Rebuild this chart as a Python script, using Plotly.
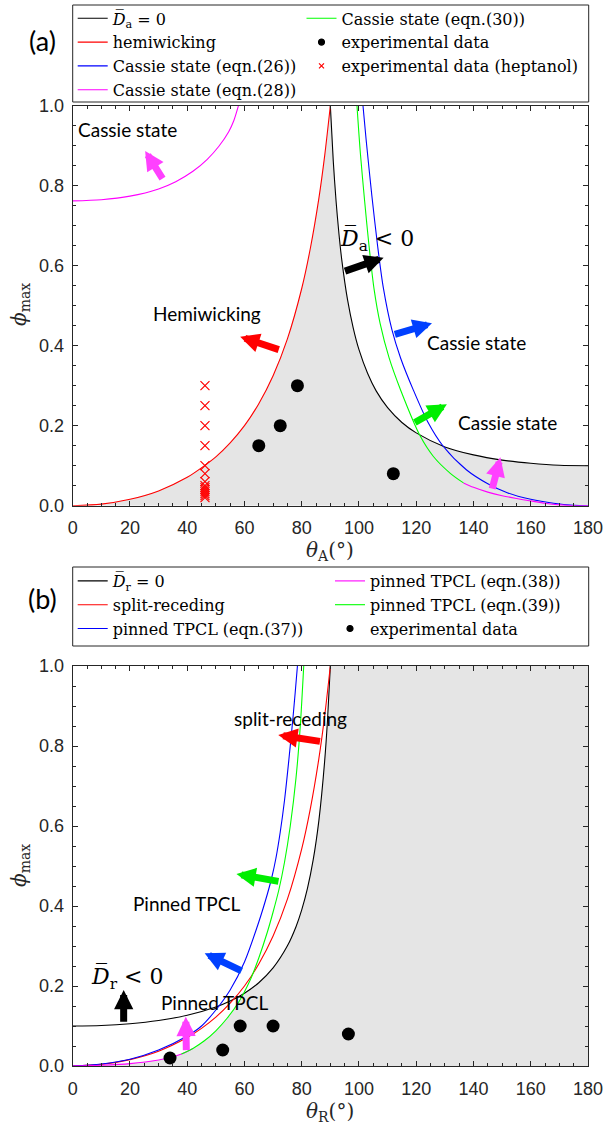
import plotly.graph_objects as go

W, H = 607, 1130

# ---------------- panel (a): advancing ----------------
theta_black_a = [90, 91, 92, 93, 94, 96, 98, 100, 103, 106, 110, 115, 120, 130, 140, 150, 160, 170, 180]
phi_black_a = [1.0, 0.864, 0.761, 0.680, 0.614, 0.515, 0.444, 0.390, 0.331, 0.287, 0.245, 0.208, 0.182,
               0.147, 0.127, 0.114, 0.106, 0.101, 0.100]

theta_red_a = [0, 10, 20, 30, 40, 46, 50, 55, 60, 65, 70, 75, 80, 83, 86, 88, 90]
phi_red_a = [0, 0.004, 0.016, 0.037, 0.071, 0.100, 0.122, 0.157, 0.200, 0.255, 0.325, 0.417, 0.543,
             0.643, 0.769, 0.874, 1.0]

theta_blue_a = [101.4, 102.5, 104.5, 106.5, 108.5, 111.5, 114.5, 119, 124, 129.5, 137.5, 145, 152, 160,
                168, 175, 180]
phi_blue_a = [1.0, 0.915, 0.775, 0.65, 0.545, 0.44, 0.37, 0.289, 0.21, 0.148, 0.09, 0.055, 0.032, 0.016,
              0.006, 0.001, 0.0]

theta_mag_a_top = [0, 10, 20, 30, 36, 42, 47, 51, 54.5, 56.3, 57.9, 59]
phi_mag_a_top = [0.762, 0.765, 0.774, 0.792, 0.81, 0.836, 0.866, 0.898, 0.935, 0.963, 1.0, 1.03]
theta_mag_a_low = [136.5, 140, 145, 150, 155, 160, 165, 170, 175, 180]
phi_mag_a_low = [0.057, 0.046, 0.034, 0.025, 0.018, 0.012, 0.006, 0.002, 0.0, 0.0]

theta_green_a = [99.3, 100.5, 102, 103.5, 105.3, 107.4, 110.5, 114.5, 121.4, 126, 131.9, 136.5]
phi_green_a = [1.0, 0.88, 0.76, 0.65, 0.54, 0.455, 0.37, 0.29, 0.174, 0.123, 0.081, 0.057]

theta_exp_a = [65, 72.5, 78.5, 112]
phi_exp_a = [0.15, 0.20, 0.30, 0.08]

theta_hep_a = [46.2] * 14
phi_hep_a = [0.30, 0.25, 0.20, 0.15, 0.10, 0.08, 0.06, 0.05, 0.045, 0.04, 0.035, 0.03, 0.025, 0.02]

# ---------------- panel (b): receding ----------------
theta_black_b = [0, 10, 20, 30, 40, 50, 55, 60, 65, 70, 75, 78, 80, 82, 84, 86, 88, 89, 90]
phi_black_b = [0.1, 0.1014, 0.1057, 0.1137, 0.1267, 0.1474, 0.1623, 0.1818, 0.2082, 0.2452, 0.3004,
               0.3483, 0.3902, 0.4439, 0.5152, 0.6142, 0.7611, 0.8643, 1.0]

theta_red_b = [0, 10, 20, 30, 40, 45, 50, 55, 60, 65, 70, 75, 80, 83, 86, 88, 90]
phi_red_b = [0, 0.004, 0.016, 0.037, 0.071, 0.094, 0.122, 0.157, 0.200, 0.255, 0.325, 0.417, 0.543,
             0.643, 0.769, 0.874, 1.0]

theta_blue_b = [0, 10, 20, 30, 40, 45, 50, 55, 60, 65, 68, 69.5, 71, 72.5, 74, 75.5, 77, 78.5, 79.2]
phi_blue_b = [0, 0.005, 0.017, 0.04, 0.075, 0.1, 0.14, 0.19, 0.26, 0.36, 0.43, 0.47, 0.52, 0.585, 0.665,
              0.765, 0.875, 1.0, 1.07]

theta_mag_b = [0, 10, 20, 30, 35, 38, 40, 42]
phi_mag_b = [0, 0.002, 0.006, 0.015, 0.023, 0.03, 0.036, 0.044]

theta_green_b = [38, 42, 46, 50, 54, 58, 62, 65, 68, 70, 72, 74, 76, 78, 79.5, 80.7, 81.3]
phi_green_b = [0.03, 0.044, 0.063, 0.088, 0.12, 0.16, 0.215, 0.27, 0.335, 0.385, 0.44, 0.51, 0.6, 0.72,
               0.85, 1.0, 1.08]

theta_exp_b = [34, 52.4, 58.5, 70, 96.3]
phi_exp_b = [0.02, 0.04, 0.10, 0.10, 0.08]

THETA_MAX = 180
PHI_MAX = 1.0

GREY = "#e5e5e5"
C_BLACK, C_RED, C_BLUE, C_MAG, C_GREEN = "#000000", "#ff0000", "#0000ff", "#ff00ff", "#00ff00"
AXC = "#262626"
SERIF = "DejaVu Serif"
SANS = "Lato"


def px(xp):
    return xp / W


def py(yp):
    return 1 - yp / H


fig = go.Figure()


def curve(x, y, color, name, xa, ya, legend, showlegend=True):
    fig.add_trace(go.Scatter(
        x=x, y=y, mode="lines", name=name, xaxis=xa, yaxis=ya, legend=legend,
        showlegend=showlegend, line=dict(color=color, width=1.1, shape="spline", smoothing=0.8),
        hoverinfo="skip"))


def fill(x, y, xa, ya):
    fig.add_trace(go.Scatter(
        x=x, y=y, mode="lines", fill="tozeroy", fillcolor=GREY, xaxis=xa, yaxis=ya,
        line=dict(width=0), showlegend=False, hoverinfo="skip"))


def legend_marker(name, symbol, color, size, legend):
    fig.add_trace(go.Scatter(
        x=[None], y=[None], mode="markers", name=name, legend=legend,
        marker=dict(symbol=symbol, color=color, size=size, line=dict(color=color, width=1.2)),
        xaxis="x", yaxis="y"))


# ---- panel (a) ----
# shaded region: below the hemiwicking curve up to 90 deg, below D_a = 0 beyond
fill(theta_red_a + theta_black_a[1:], phi_red_a + phi_black_a[1:], "x", "y")
curve(theta_black_a, phi_black_a, C_BLACK, "<i>D̅</i><sub>a</sub> = 0", "x", "y", "legend")
curve(theta_red_a, phi_red_a, C_RED, "hemiwicking", "x", "y", "legend")
curve(theta_blue_a, phi_blue_a, C_BLUE, "Cassie state (eqn.(26))", "x", "y", "legend")
curve(theta_mag_a_top + [None] + theta_mag_a_low, phi_mag_a_top + [None] + phi_mag_a_low, C_MAG,
      "Cassie state (eqn.(28))", "x", "y", "legend")
curve(theta_green_a, phi_green_a, C_GREEN, "Cassie state (eqn.(30))", "x", "y", "legend2")
fig.add_trace(go.Scatter(x=theta_exp_a, y=phi_exp_a, mode="markers", xaxis="x", yaxis="y",
                         marker=dict(color="black", size=13), showlegend=False, hoverinfo="skip"))
fig.add_trace(go.Scatter(x=theta_hep_a, y=phi_hep_a, mode="markers", xaxis="x", yaxis="y",
                         marker=dict(symbol="x-thin", size=9, line=dict(color=C_RED, width=1.2)),
                         showlegend=False, hoverinfo="skip"))
legend_marker("experimental data", "circle", "black", 6, "legend2")
legend_marker("experimental data (heptanol)", "x-thin", C_RED, 5, "legend2")

# ---- panel (b) ----
# shaded region: below the lower pinned-TPCL curves, then below D_r = 0, then everything past 90 deg
bound_b = ([(t, p) for t, p in zip(theta_mag_b, phi_mag_b) if t < 38]
           + [(t, p) for t, p in zip(theta_green_b, phi_green_b) if 38 <= t <= 58]
           + [(t, p) for t, p in zip(theta_black_b, phi_black_b) if t >= 60]
           + [(THETA_MAX, PHI_MAX)])
fill([t for t, _ in bound_b], [p for _, p in bound_b], "x2", "y2")
curve(theta_black_b, phi_black_b, C_BLACK, "<i>D̅</i><sub>r</sub> = 0", "x2", "y2", "legend3")
curve(theta_red_b, phi_red_b, C_RED, "split-receding", "x2", "y2", "legend3")
curve(theta_blue_b, phi_blue_b, C_BLUE, "pinned TPCL (eqn.(37))", "x2", "y2", "legend3")
curve(theta_mag_b, phi_mag_b, C_MAG, "pinned TPCL (eqn.(38))", "x2", "y2", "legend4")
curve(theta_green_b, phi_green_b, C_GREEN, "pinned TPCL (eqn.(39))", "x2", "y2", "legend4")
fig.add_trace(go.Scatter(x=theta_exp_b, y=phi_exp_b, mode="markers", xaxis="x2", yaxis="y2",
                         marker=dict(color="black", size=13), showlegend=False, hoverinfo="skip"))
legend_marker("experimental data", "circle", "black", 6, "legend4")

# ---- axes ----
XDOM = [px(72.7), px(588)]
common_x = dict(range=[0, THETA_MAX], dtick=20, tick0=0, showline=True, linecolor=AXC, linewidth=1,
                mirror="ticks", ticks="inside", ticklen=5, tickcolor=AXC, showgrid=False, zeroline=False,
                tickfont=dict(family="Liberation Sans", size=18, color=AXC),
                minor=dict(ticks="inside", ticklen=3, dtick=5, tickcolor=AXC, showgrid=False),
                ticklabelstandoff=6)
common_y = dict(range=[0, PHI_MAX], dtick=0.2, tick0=0, tickformat=".1f", showline=True, linecolor=AXC,
                linewidth=1, mirror="ticks", ticks="inside", ticklen=5, tickcolor=AXC, showgrid=False,
                zeroline=False, tickfont=dict(family="Liberation Sans", size=18, color=AXC),
                minor=dict(ticks="inside", ticklen=3, dtick=0.05, tickcolor=AXC, showgrid=False),
                ticklabelstandoff=4)

legend_common = dict(bgcolor="rgba(0,0,0,0)", borderwidth=0, xanchor="left", yanchor="top",
                     font=dict(family=SERIF, size=16, color="black"), itemwidth=30, traceorder="normal")

fig.update_layout(
    width=W, height=H, margin=dict(l=0, r=0, t=0, b=0, autoexpand=False),
    paper_bgcolor="white", plot_bgcolor="white",
    xaxis=dict(domain=XDOM, anchor="y", **common_x),
    yaxis=dict(domain=[py(505.7), py(105.7)], anchor="x", **common_y),
    xaxis2=dict(domain=XDOM, anchor="y2", **common_x),
    yaxis2=dict(domain=[py(1066), py(666)], anchor="x2", **common_y),
    legend=dict(x=px(72.7), y=py(1.4), **legend_common),
    legend2=dict(x=px(301.5), y=py(1.4), **legend_common),
    legend3=dict(x=px(72.7), y=py(564), **legend_common),
    legend4=dict(x=px(330), y=py(564), **legend_common),
    showlegend=True,
)

# legend frames
for y0, y1 in [(5, 102), (567, 646)]:
    fig.add_shape(type="rect", xref="paper", yref="paper", x0=px(72.7), x1=px(588.7),
                  y0=py(y1), y1=py(y0), line=dict(color=AXC, width=1), fillcolor="rgba(0,0,0,0)")

ann = []


def label(text, xp, yp, size=20, family=SERIF, angle=0, color=AXC):
    ann.append(dict(text=text, x=px(xp), y=py(yp), xref="paper", yref="paper", showarrow=False,
                    xanchor="center", yanchor="middle", textangle=angle,
                    font=dict(family=family, size=size, color=color)))


def note(text, x, y, xa, ya, size=19, family=SANS):
    ann.append(dict(text=text, x=x, y=y, xref=xa, yref=ya, showarrow=False, xanchor="center",
                    yanchor="middle", font=dict(family=family, size=size, color="black")))


def arrow(tail, tip, color, xa, ya):
    ann.append(dict(text="", x=tip[0], y=tip[1], ax=tail[0], ay=tail[1], xref=xa, yref=ya,
                    axref=xa, ayref=ya, showarrow=True, arrowhead=2, arrowsize=0.55, arrowwidth=7,
                    arrowcolor=color, standoff=0, startstandoff=0))


# panel labels and axis titles
label("(a)", 42, 40, size=27, family=SANS, color="black")
label("(b)", 42, 598, size=27, family=SANS, color="black")
label("<i>θ</i><sub>A</sub>(°)", 330, 551)
label("<i>θ</i><sub>R</sub>(°)", 330, 1112)
label("<i>ϕ</i><sub>max</sub>", 20, 305, angle=-90)
label("<i>ϕ</i><sub>max</sub>", 20, 866, angle=-90)

# panel (a) region notes and arrows
note("Cassie state", 19.3, 0.941, "x", "y")
note("Hemiwicking", 46.8, 0.481, "x", "y")
note("Cassie state", 141.2, 0.4075, "x", "y")
note("Cassie state", 151.9, 0.2075, "x", "y")
note("<i>D̅</i><sub>a</sub> &lt; 0", 106.3, 0.664, "x", "y", size=22, family=SERIF)
arrow((31.7, 0.814), (25.3, 0.887), "#ff40ff", "x", "y")
arrow((94.6, 0.585), (108.6, 0.62), "black", "x", "y")
arrow((72.5, 0.389), (58.5, 0.4225), C_RED, "x", "y")
arrow((112, 0.427), (125.5, 0.456), "#0040ff", "x", "y")
arrow((119, 0.206), (130.7, 0.2535), "#00ee00", "x", "y")
arrow((146.4, 0.039), (149.4, 0.121), "#ff40ff", "x", "y")

# panel (b) region notes and arrows
note("split-receding", 76.2, 0.869, "x2", "y2")
note("Pinned TPCL", 39.7, 0.407, "x2", "y2")
note("Pinned TPCL", 49.7, 0.158, "x2", "y2")
note("<i>D̅</i><sub>r</sub> &lt; 0", 19.0, 0.221, "x2", "y2", size=22, family=SERIF)
arrow((86.9, 0.811), (71.8, 0.8275), C_RED, "x2", "y2")
arrow((72.4, 0.461), (57.2, 0.48), "#00ee00", "x2", "y2")
arrow((59.5, 0.236), (46.1, 0.282), "#0040ff", "x2", "y2")
arrow((17.8, 0.107), (17.8, 0.19), "black", "x2", "y2")
arrow((39.7, 0.036), (39.5, 0.123), "#ff40ff", "x2", "y2")

fig.update_layout(annotations=ann)

fig.write_html("out.html")
